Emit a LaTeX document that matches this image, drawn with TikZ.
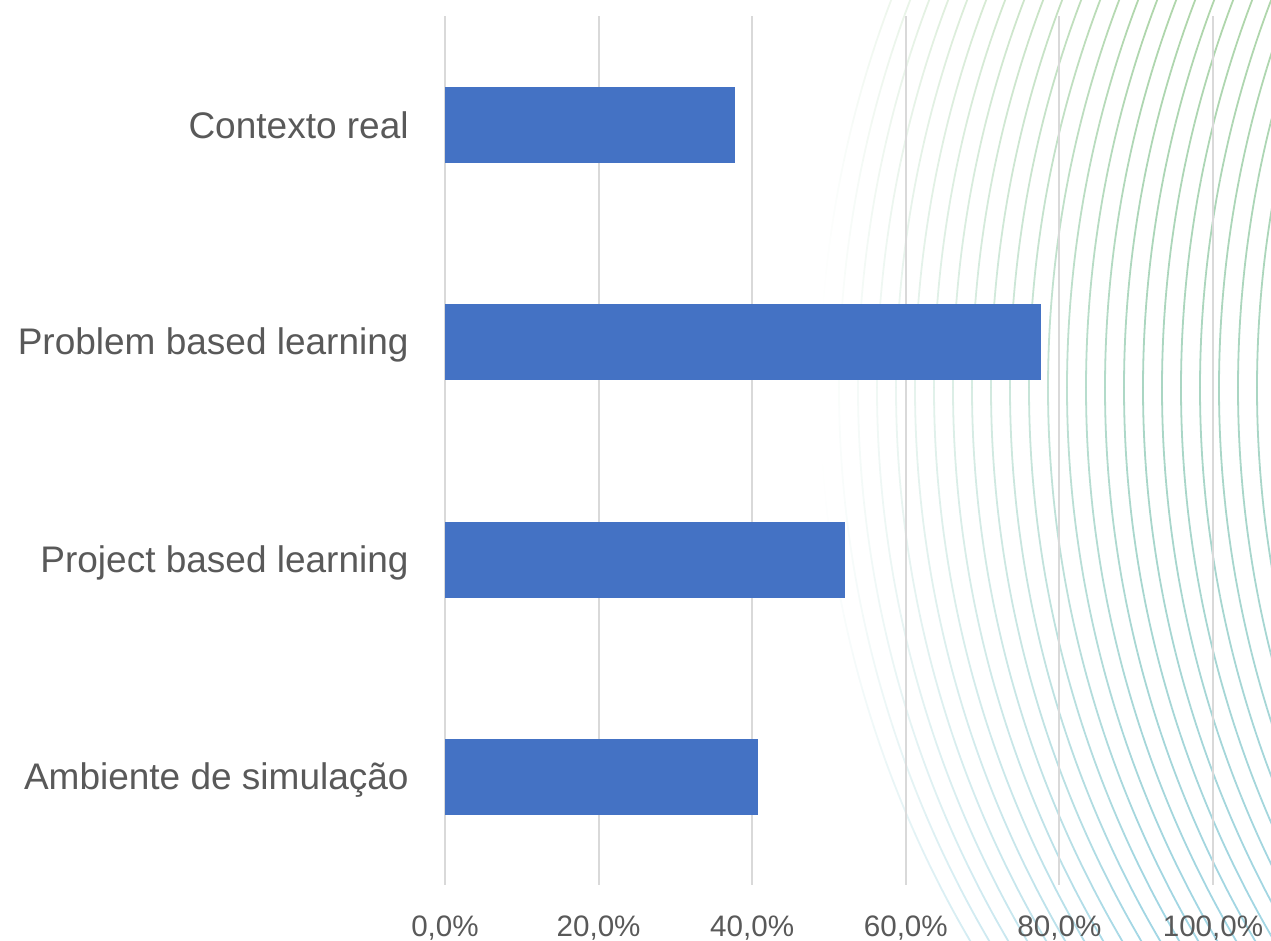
\documentclass[tikz,border=0pt]{standalone}
\usepackage{fontspec}
\setmainfont{Liberation Sans}
\definecolor{barblue}{HTML}{4472C4}
\definecolor{gridgray}{HTML}{D9D9D9}
\definecolor{labelgray}{HTML}{595959}
\definecolor{arcgreen}{HTML}{A2CF9C}
\definecolor{arcblue}{HTML}{92CFE0}
\begin{document}
\begin{tikzpicture}[x=0.5pt,y=0.5pt,
    catlabel/.style={anchor=base east,inner sep=0pt,text=labelgray,
      font=\fontsize{18.5}{22}\selectfont},
    ticklabel/.style={anchor=base,inner sep=0pt,text=labelgray,
      font=\fontsize{14.8}{18}\selectfont},
    barfill/.style={fill=barblue},
    gridline/.style={draw=gridgray,line width=1pt},
    ring/.style={line width=0.9pt,line cap=butt}]
    \useasboundingbox (0,0) rectangle (1271,941);
    \def\x{153.6}
    \def\p{7.68}
    \def\R{1093}
    % background rings
    \begin{scope}
      \clip (0,0) rectangle (1271,941);
      \foreach \k in {0,...,24} {
        \pgfmathsetmacro\cx{1913+19*\k}
        \foreach \a in {157,158,...,212} {
          \pgfmathsetmacro\px{\cx+\R*cos(\a+0.5)}
          \pgfmathsetmacro\py{553+\R*sin(\a+0.5)}
          \pgfmathsetmacro\op{0.85*max(0,min(1,(\px-820)/320))}
          \pgfmathtruncatemacro\mx{max(0,min(100,\py/9.41))}
          \draw[ring,draw=arcgreen!\mx!arcblue,draw opacity=\op]
            (\cx,553) ++(\a:\R) arc[start angle=\a,end angle=\a+1,radius=\R];
        }
      }
    \end{scope}
    % grid and axis
    \foreach \i/\t in {0/0,1/20,2/40,3/60,4/80,5/100} {
      \draw[gridline] (445+\i*\x,56) -- (445+\i*\x,925);
      \node[ticklabel] (T\i) at (445+\i*\x,4) {\t,0\%};
    }
    % bars
    \fill[barfill] (445,778) rectangle (445+37.8*\p,854);
    \fill[barfill] (445,561) rectangle (445+77.6*\p,637);
    \fill[barfill] (445,343) rectangle (445+52.1*\p,419);
    \fill[barfill] (445,126) rectangle (445+40.8*\p,202);
    % categories
    \node[catlabel] (C0) at (409,802) {Contexto real};
    \node[catlabel] (C1) at (409,586) {Problem based learning};
    \node[catlabel] (C2) at (409,368) {Project based learning};
    \node[catlabel] (C3) at (409,151) {Ambiente de simulação};
\end{tikzpicture}
\end{document}
